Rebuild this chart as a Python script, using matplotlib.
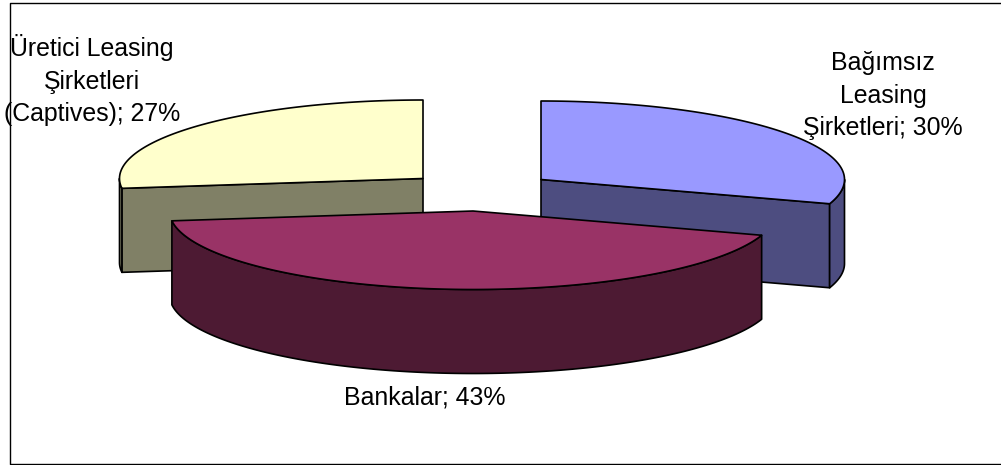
import numpy as np
import matplotlib
matplotlib.use("Agg")
import matplotlib.pyplot as plt
from matplotlib.patches import Polygon

plt.rcParams['font.family'] = ['Liberation Sans', 'DejaVu Sans']

# shares in percent, clockwise from twelve o'clock
names = ["Bağımsız\nLeasing\nŞirketleri", "Bankalar", "Üretici Leasing\nŞirketleri\n(Captives)"]
shares = [30, 43, 27]

top_colors = ["#9999FF", "#993366", "#FFFFCC"]
side_colors = ["#4D4D80", "#4D1A33", "#808066"]

# slice centres after the explosion, and label anchors
centers = [(541, 179.5), (473, 211), (423, 178.5)]
label_pos = [(883, 95.5), (425, 397), (92, 80)]
draw_order = [2, 0, 1]

rx = 303.5
ry = 78.5
depth = 84


def rim(cx, cy, t0, t1, drop=0):
    t = np.radians(np.linspace(t0, t1, 200))
    return np.column_stack([cx + rx * np.sin(t), cy - ry * np.cos(t) + drop])


def add_face(ax, pts, color):
    ax.add_patch(Polygon(pts, closed=True, facecolor=color, edgecolor="black",
                         linewidth=1.2, joinstyle="round"))


fig = plt.figure(figsize=(10.01, 4.65), dpi=100)
ax = fig.add_axes([0, 0, 1, 1])
ax.set_xlim(0, 1001)
ax.set_ylim(465, 0)
ax.axis("off")

# chart border, runs off the right edge
ax.plot([1003, 9.5, 9.5, 1003], [3.5, 3.5, 464, 464], color="black", lw=1.0)

stops = np.cumsum([0] + shares) * 3.6
for i in draw_order:
    cx, cy = centers[i]
    t0, t1 = stops[i], stops[i + 1]
    apex = np.array([[cx, cy]])

    # cut faces that turn towards the viewer
    if 180 < t0 < 360:
        p = rim(cx, cy, t0, t0)[:1]
        add_face(ax, np.vstack([apex, p, p + [0, depth], apex + [0, depth]]), side_colors[i])
    if 0 < t1 < 180:
        p = rim(cx, cy, t1, t1)[:1]
        add_face(ax, np.vstack([apex, p, p + [0, depth], apex + [0, depth]]), side_colors[i])

    # outer wall, only the front half of the rim shows
    a, b = max(t0, 90), min(t1, 270)
    if a < b:
        add_face(ax, np.vstack([rim(cx, cy, a, b), rim(cx, cy, b, a, depth)]), side_colors[i])

    add_face(ax, np.vstack([apex, rim(cx, cy, t0, t1)]), top_colors[i])

for name, share, (x, y) in zip(names, shares, label_pos):
    ax.text(x, y, f"{name}; {share}%", ha="center", va="center", multialignment="center",
            fontsize=17.9, color="black", linespacing=1.47)

fig.savefig("out.png", dpi=100, facecolor="white")
